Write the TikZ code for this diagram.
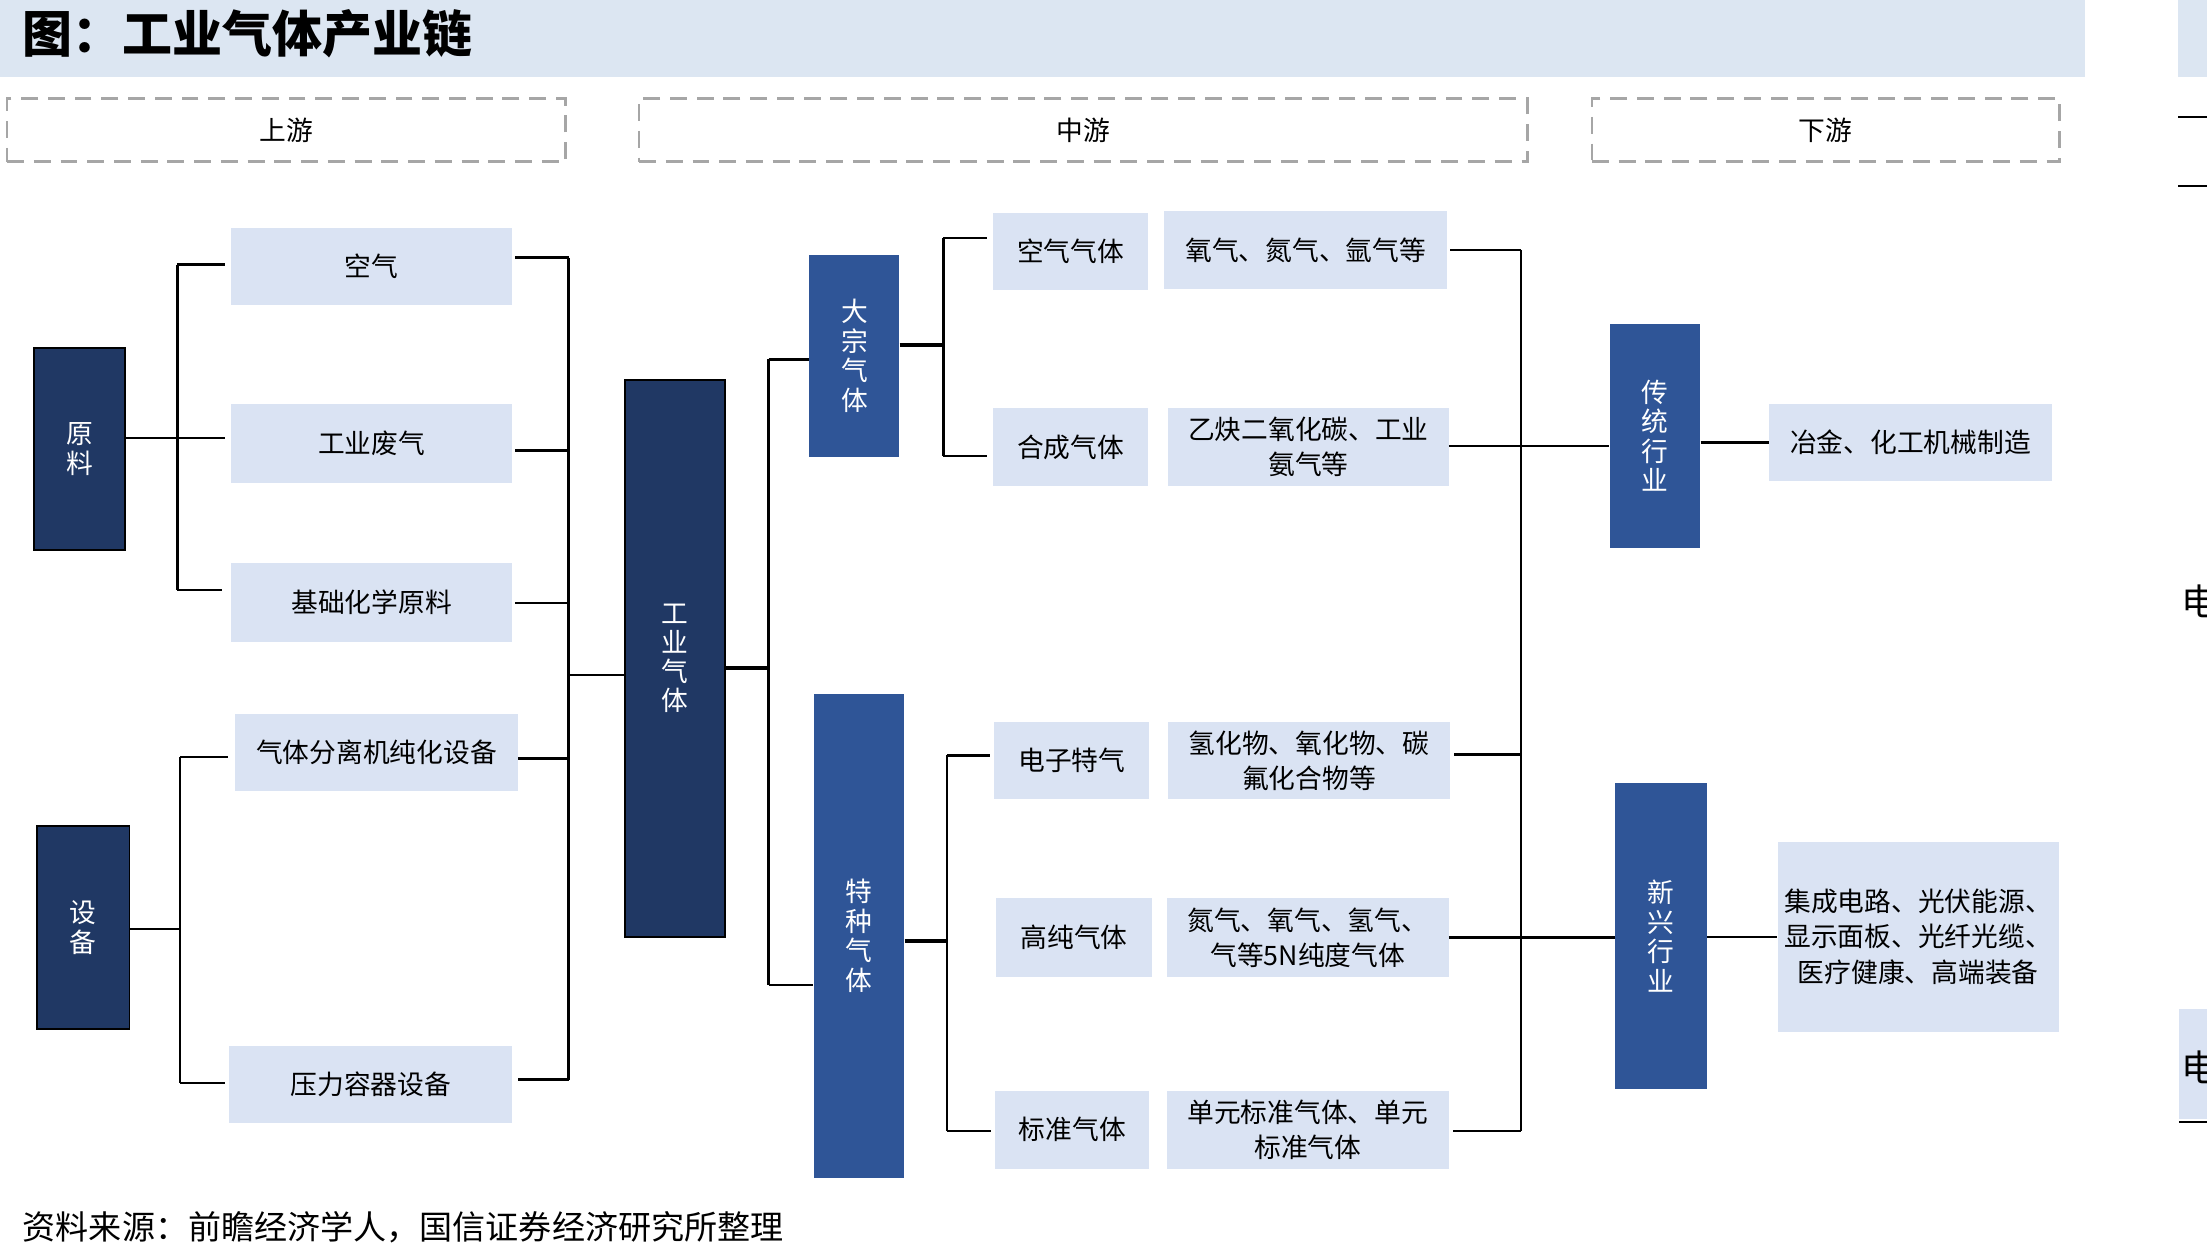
\documentclass[tikz,border=0pt]{standalone}
\usepackage{fontspec}
\setmainfont{Noto Sans CJK SC}
\newcommand\myfs[2]{\fontsize{#1}{#2}\selectfont}
\definecolor{navy}{HTML}{203864}
\definecolor{midblue}{HTML}{2F5597}
\definecolor{lbox}{HTML}{DAE3F3}
\definecolor{barblue}{HTML}{DCE6F2}
\definecolor{dashgray}{HTML}{A6A6A6}
\begin{document}
\begin{tikzpicture}[x=1pt,y=-1pt,
  lb/.style={fill=lbox, inner sep=0pt, align=center, font=\myfs{19}{25}},
  dk/.style={fill=navy, draw=black, line width=1.4pt, text=white, inner sep=0pt, align=center, font=\myfs{19}{21.5}},
  md/.style={fill=midblue, text=white, inner sep=0pt, align=center, font=\myfs{19}{21}},
  hdr/.style={draw=dashgray, line width=2pt, dash pattern=on 12pt off 7pt, inner sep=0pt, font=\myfs{19}{22}},
  ln/.style={line width=1.7pt},
  lnr/.style={line width=1.7pt},
  thk/.style={line width=2.8pt}
]
\useasboundingbox (0,0) rectangle (1568,894);
\fill[white] (0,0) rectangle (1568,894);

% title bar
\fill[barblue] (0,0) rectangle (1481,55);
\node[anchor=west, inner sep=0pt, font=\myfs{35.5}{40}\bfseries] (title) at (16,24) {图：工业气体产业链};

% header dashed boxes
\node[hdr, minimum width=397pt, minimum height=45pt] (up) at (203.5,92.5) {上游};
\node[hdr, minimum width=631pt, minimum height=45pt] (mid) at (769.5,92.5) {中游};
\node[hdr, minimum width=332pt, minimum height=45pt] (down) at (1297,92.5) {下游};

% left column
\node[dk, minimum width=65pt, minimum height=144pt] (yl) at (56.5,319) {原\\料};
\node[dk, minimum width=66pt, minimum height=144pt] (sb) at (59,659) {设\\备};
\node[lb, minimum width=200pt, minimum height=55pt] (kq) at (264,189.5) {空气};
\node[lb, minimum width=200pt, minimum height=56pt] (fq) at (264,315) {工业废气};
\node[lb, minimum width=200pt, minimum height=56pt] (jc) at (264,428) {基础化学原料};
\node[lb, minimum width=201pt, minimum height=55pt] (fl) at (267.5,534.5) {气体分离机纯化设备};
\node[lb, minimum width=201pt, minimum height=55pt] (yr) at (263.5,770.5) {压力容器设备};
\node[dk, minimum width=71pt, minimum height=395.6pt, font=\myfs{19}{20.5}] (gy) at (479.5,467.8) {工\\业\\气\\体};

% middle column
\node[md, minimum width=64pt, minimum height=143.5pt] (dz) at (607,252.75) {大\\宗\\气\\体};
\node[md, minimum width=64.5pt, minimum height=344.2pt] (tz) at (610.25,664.9) {特\\种\\气\\体};
\node[lb, minimum width=110.2pt, minimum height=55pt] (kqt) at (760.6,178.5) {空气气体};
\node[lb, minimum width=110.2pt, minimum height=55.3pt] (hc) at (760.6,317.65) {合成气体};
\node[lb, minimum width=200.8pt, minimum height=55.3pt] (yq) at (927.6,177.65) {氧气、氮气、氩气等};
\node[lb, minimum width=199.1pt, minimum height=55.3pt] (yj) at (929.55,317.65) {乙炔二氧化碳、工业\\氨气等};
\node[lb, minimum width=110.1pt, minimum height=55.4pt] (dzt) at (761.55,540.3) {电子特气};
\node[lb, minimum width=200pt, minimum height=55.4pt] (qh) at (930,540.3) {氢化物、氧化物、碳\\氟化合物等};
\node[lb, minimum width=110.9pt, minimum height=55.8pt] (gc) at (763.15,666.1) {高纯气体};
\node[lb, minimum width=199.9pt, minimum height=55.8pt] (dq) at (929.15,666.1) {氮气、氧气、氢气、\\气等5N纯度气体};
\node[lb, minimum width=109.6pt, minimum height=55.3pt] (bz) at (761.8,802.65) {标准气体};
\node[lb, minimum width=199.9pt, minimum height=55.3pt] (dy) at (929.15,802.65) {单元标准气体、单元\\标准气体};

% right column
\node[md, minimum width=64.5pt, minimum height=159.2pt] (ct) at (1175.75,309.6) {传\\统\\行\\业};
\node[lb, minimum width=201.3pt, minimum height=55pt] (yjz) at (1357.35,314.5) {冶金、化工机械制造};
\node[md, minimum width=65.3pt, minimum height=218pt] (xx) at (1180.15,665) {新\\兴\\行\\业};
\node[lb, minimum width=199.8pt, minimum height=135pt] (jcd) at (1362.8,665.5) {集成电路、光伏能源、\\显示面板、光纤光缆、\\医疗健康、高端装备};

% spine coordinates
\coordinate (a1) at (126,188);
\coordinate (a2) at (126,311);
\coordinate (a3) at (126,419);
\coordinate (b1) at (128,537.6);
\coordinate (b2) at (128,660);
\coordinate (b3) at (128,769.6);
\coordinate (c1) at (404,183);
\coordinate (c2) at (404,320);
\coordinate (c3) at (404,428.3);
\coordinate (c4) at (404,479.6);
\coordinate (c5) at (404,539);
\coordinate (c6) at (404,767);
\coordinate (d1) at (546,255.3);
\coordinate (d2) at (546,474.8);
\coordinate (d3) at (546,700);
\coordinate (e1) at (670.2,169.3);
\coordinate (e2) at (670.2,245.1);
\coordinate (e3) at (670.2,324);
\coordinate (f1) at (673,536.7);
\coordinate (f2) at (673,668.6);
\coordinate (f3) at (673,803.6);
\coordinate (g1) at (1080.5,177.5);
\coordinate (g2) at (1080.5,317);
\coordinate (g3) at (1080.5,536);
\coordinate (g4) at (1080.5,666);
\coordinate (g5) at (1080.5,803.6);

% left brackets
\draw[ln] (a1) -- (a3);
\draw[ln, shorten >=4pt] (a1) -- (kq.west |- a1);
\draw[ln, shorten >=4pt] (yl.east |- a2) -- (fq.west |- a2);
\draw[ln, shorten >=6pt] (a3) -- (jc.west |- a3);
\draw[ln] (b1) -- (b3);
\draw[ln] (sb.east |- b2) -- (b2);
\draw[ln, shorten >=5pt] (b1) -- (fl.west |- b1);
\draw[ln, shorten >=3pt] (b3) -- (yr.west |- b3);

\draw[ln] (c1) -- (c6);
\draw[ln, shorten <=2pt] (kq.east |- c1) -- (c1);
\draw[ln, shorten <=2pt] (fq.east |- c2) -- (c2);
\draw[ln, shorten <=2pt] (jc.east |- c3) -- (c3);
\draw[ln] (fl.east |- c5) -- (c5);
\draw[ln, shorten <=4pt] (yr.east |- c6) -- (c6);
\draw[ln] (c4) -- (gy.west |- c4);

% middle brackets
\draw[thk] (gy.east |- d2) -- (d2);
\draw[ln] (d1) -- (d3);
\draw[ln] (d1) -- (dz.west |- d1);
\draw[ln] (d3) -- (tz.west |- d3);
\draw[thk] (dz.east |- e2) -- (e2);
\draw[ln] (e1) -- (e3);
\draw[ln, shorten >=4pt] (e1) -- (kqt.west |- e1);
\draw[ln, shorten >=4pt] (e3) -- (hc.west |- e3);
\draw[thk] (tz.east |- f2) -- (f2);
\draw[ln] (f1) -- (f3);
\draw[ln, shorten >=3pt] (f1) -- (dzt.west |- f1);
\draw[ln, shorten >=3pt] (f3) -- (bz.west |- f3);

% right brackets
\draw[lnr] (g1) -- (g5);
\draw[lnr, shorten <=2pt] (yq.east |- g1) -- (g1);
\draw[lnr] (yj.east |- g2) -- (ct.west |- g2);
\draw[lnr, shorten <=3pt] (qh.east |- g3) -- (g3);
\draw[lnr] (dq.east |- g4) -- (xx.west |- g4);
\draw[lnr, shorten <=3pt] (dy.east |- g5) -- (g5);
\draw[lnr] (yjz.west -| ct.east) -- (yjz.west);
\draw[lnr] (jcd.west -| xx.east) -- (jcd.west);

% source
\node[anchor=west, inner sep=0pt, font=\myfs{23.5}{26}] (src) at (16,872) {资料来源：前瞻经济学人，国信证券经济研究所整理};

% fragments of the neighbouring page at the right edge
\begin{scope}
\clip (0,0) rectangle (1568,894);
\fill[barblue] (1547.5,0) rectangle (1590,55);
\draw[lnr] (1547.5,83) -- (1590,83);
\draw[lnr] (1547.5,132) -- (1590,132);
\node[anchor=west, inner sep=0pt, font=\myfs{26}{28}] (fr1) at (1550,427) {电};
\fill[lbox] (1548,717) rectangle (1590,795);
\node[anchor=west, inner sep=0pt, font=\myfs{26}{28}] (fr2) at (1550,758) {电};
\draw[lnr] (1548,797) -- (1590,797);
\end{scope}
\end{tikzpicture}
\end{document}
